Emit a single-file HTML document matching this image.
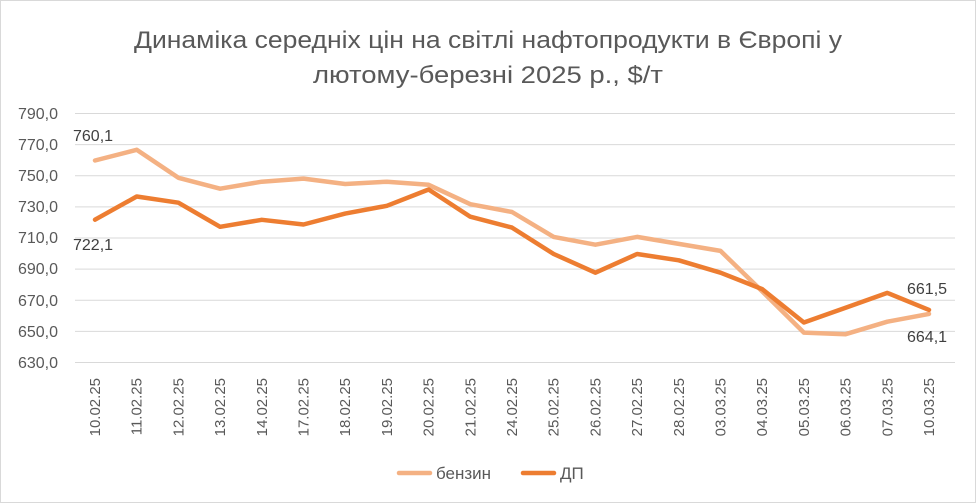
<!DOCTYPE html>
<html><head><meta charset="utf-8"><style>
html,body{margin:0;padding:0;background:#fff}
svg{display:block;font-family:"Liberation Sans","DejaVu Sans",sans-serif}
</style></head><body>
<svg width="976" height="503" viewBox="0 0 976 503" xmlns="http://www.w3.org/2000/svg">
<rect x="0.5" y="0.5" width="975" height="502" fill="#fff" stroke="#d9d9d9"/>
<text x="488" y="48" font-size="24" fill="#595959" text-anchor="middle" textLength="708" lengthAdjust="spacingAndGlyphs">Динаміка середніх цін на світлі нафтопродукти в Європі у</text>
<text x="488" y="83" font-size="24" fill="#595959" text-anchor="middle" textLength="350" lengthAdjust="spacingAndGlyphs">лютому-березні 2025 р., $/т</text>
<g stroke="#d9d9d9" stroke-width="1">
<line x1="75" x2="955" y1="113.5" y2="113.5"/><line x1="75" x2="955" y1="144.6" y2="144.6"/>
<line x1="75" x2="955" y1="175.7" y2="175.7"/><line x1="75" x2="955" y1="206.9" y2="206.9"/>
<line x1="75" x2="955" y1="238" y2="238"/><line x1="75" x2="955" y1="269.1" y2="269.1"/>
<line x1="75" x2="955" y1="300.3" y2="300.3"/><line x1="75" x2="955" y1="331.4" y2="331.4"/>
<line x1="75" x2="955" y1="362.5" y2="362.5"/>
</g>
<g font-size="16" fill="#595959" text-anchor="end">
<text x="58" y="119">790,0</text><text x="58" y="150">770,0</text><text x="58" y="181">750,0</text>
<text x="58" y="212">730,0</text><text x="58" y="243">710,0</text><text x="58" y="274">690,0</text>
<text x="58" y="306">670,0</text><text x="58" y="337">650,0</text><text x="58" y="368">630,0</text>
</g>
<polyline fill="none" stroke="#F4B183" stroke-width="4.5" stroke-linejoin="round" stroke-linecap="round" points="95,160.5 136.7,149.8 178.4,177.8 220.1,188.7 261.8,181.7 303.5,178.6 345.2,184 386.9,181.7 428.6,184.8 470.3,204.2 512,212 553.7,236.9 595.4,244.7 637.1,236.9 678.8,243.9 720.5,250.9 762.2,291.4 803.9,332.6 845.6,334.2 887.3,321.7 929,313.9"/>
<polyline fill="none" stroke="#ED7D31" stroke-width="4.5" stroke-linejoin="round" stroke-linecap="round" points="95,219.7 136.7,196.5 178.4,202.7 220.1,226.8 261.8,219.8 303.5,224.5 345.2,213.6 386.9,205.8 428.6,189.5 470.3,216.7 512,227.6 553.7,254 595.4,272.7 637.1,254 678.8,260.3 720.5,272.7 762.2,289.1 803.9,322.5 845.6,307.7 887.3,292.9 929,309.9"/>
<g font-size="16" fill="#404040">
<text x="73" y="141">760,1</text><text x="73" y="250">722,1</text>
<text x="907" y="294">661,5</text><text x="907" y="342">664,1</text>
</g>
<g font-size="15" fill="#595959" text-anchor="end">
<text transform="translate(100,378) rotate(-90)">10.02.25</text>
<text transform="translate(141.7,378) rotate(-90)">11.02.25</text>
<text transform="translate(183.4,378) rotate(-90)">12.02.25</text>
<text transform="translate(225.1,378) rotate(-90)">13.02.25</text>
<text transform="translate(266.8,378) rotate(-90)">14.02.25</text>
<text transform="translate(308.5,378) rotate(-90)">17.02.25</text>
<text transform="translate(350.2,378) rotate(-90)">18.02.25</text>
<text transform="translate(391.9,378) rotate(-90)">19.02.25</text>
<text transform="translate(433.6,378) rotate(-90)">20.02.25</text>
<text transform="translate(475.3,378) rotate(-90)">21.02.25</text>
<text transform="translate(517,378) rotate(-90)">24.02.25</text>
<text transform="translate(558.7,378) rotate(-90)">25.02.25</text>
<text transform="translate(600.4,378) rotate(-90)">26.02.25</text>
<text transform="translate(642.1,378) rotate(-90)">27.02.25</text>
<text transform="translate(683.8,378) rotate(-90)">28.02.25</text>
<text transform="translate(725.5,378) rotate(-90)">03.03.25</text>
<text transform="translate(767.2,378) rotate(-90)">04.03.25</text>
<text transform="translate(808.9,378) rotate(-90)">05.03.25</text>
<text transform="translate(850.6,378) rotate(-90)">06.03.25</text>
<text transform="translate(892.3,378) rotate(-90)">07.03.25</text>
<text transform="translate(934,378) rotate(-90)">10.03.25</text>
</g>
<line x1="399" x2="430" y1="473" y2="473" stroke="#F4B183" stroke-width="4.5" stroke-linecap="round"/>
<text x="436" y="479" font-size="17" fill="#595959">бензин</text>
<line x1="523" x2="554" y1="473" y2="473" stroke="#ED7D31" stroke-width="4.5" stroke-linecap="round"/>
<text x="560" y="479" font-size="17" fill="#595959">ДП</text>
</svg>
</body></html>
